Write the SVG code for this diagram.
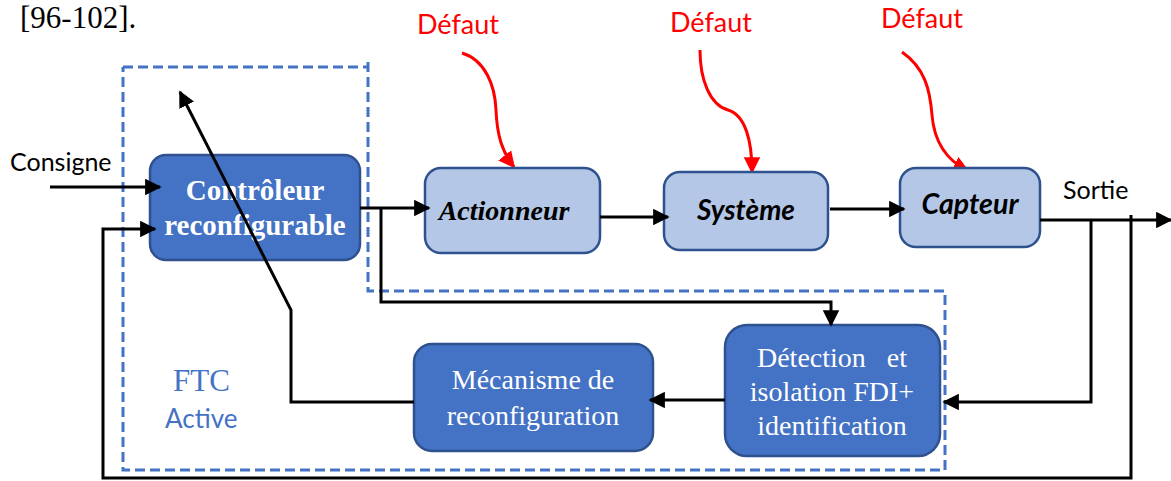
<svg xmlns="http://www.w3.org/2000/svg" width="1171" height="481" viewBox="0 0 1171 481">
  <style>
    .dark { fill: #4472C4; stroke: #2F528F; stroke-width: 2.5; }
    .light { fill: #B4C7E7; stroke: #2F528F; stroke-width: 2.5; }
    .wt { font-family: "Liberation Serif", "Times New Roman", serif; font-size: 28px; fill: #ffffff; text-anchor: middle; }
    .wtb { font-weight: bold; font-size: 29px; }
    .lbl { font-family: Lato, "Liberation Sans", sans-serif; font-size: 25px; fill: #000000; }
    .red { font-family: Lato, "Liberation Sans", sans-serif; font-size: 27px; fill: #FF0000; text-anchor: middle; }
    .wire { fill: none; stroke: #000000; stroke-width: 3; }
    .fault { fill: none; stroke: #FF0000; stroke-width: 3; }
    .frame { fill: none; stroke: #4472C4; stroke-width: 3; stroke-dasharray: 10 5; }
  </style>
  <defs>
    <marker id="ah" viewBox="0 0 10 10" refX="9" refY="5" markerWidth="5.5" markerHeight="5.5" markerUnits="strokeWidth" orient="auto">
      <path d="M0,0 L10,5 L0,10 z" fill="#000000"/>
    </marker>
    <marker id="ahr" viewBox="0 0 10 10" refX="9" refY="5" markerWidth="5.5" markerHeight="5.5" markerUnits="strokeWidth" orient="auto">
      <path d="M0,0 L10,5 L0,10 z" fill="#FF0000"/>
    </marker>
  </defs>

  <!-- reference note -->
  <text x="20" y="28" font-family="Liberation Serif, Times New Roman, serif" font-size="31" fill="#000">[96-102].</text>

  <!-- active FTC dashed boundary -->
  <g id="ftc-frame">
    <path class="frame" d="M123,67 H368 M368,62 V291 H945 V470 H123 V67"/>
    <text x="173" y="391" font-family="Liberation Serif, Times New Roman, serif" font-size="31" fill="#4472C4">FTC</text>
    <text x="165" y="428" font-family="Lato, Liberation Sans, sans-serif" font-size="26" fill="#4472C4">Active</text>
  </g>

  <!-- fault inputs -->
  <g id="faults">
    <text class="red" x="458" y="34">Défaut</text>
    <path class="fault" d="M462,53 C485,60 495,85 496,110 C497,135 502,152 514,167" marker-end="url(#ahr)"/>
    <text class="red" x="711" y="32">Défaut</text>
    <path class="fault" d="M700,50 C700,80 710,105 728,110 C745,115 752,140 752,172" marker-end="url(#ahr)"/>
    <text class="red" x="922" y="28">Défaut</text>
    <path class="fault" d="M902,52 C925,68 930,90 932,115 C934,140 946,160 968,171" marker-end="url(#ahr)"/>
  </g>

  <g id="lbl-consigne"><text class="lbl" x="10" y="171">Consigne</text></g>
  <g id="lbl-sortie"><text class="lbl" x="1063" y="199">Sortie</text></g>

  <g id="controleur">
    <rect class="dark" x="150" y="155" width="210" height="105" rx="16"/>
    <text class="wt wtb" x="255" y="200">Contrôleur</text>
    <text class="wt wtb" x="255" y="235">reconfigurable</text>
  </g>

  <g id="actionneur">
    <rect class="light" x="425" y="168" width="175" height="85" rx="16"/>
    <text x="504" y="220" font-family="Liberation Serif, Times New Roman, serif" font-size="28" font-weight="bold" font-style="italic" text-anchor="middle">Actionneur</text>
  </g>

  <g id="systeme">
    <rect class="light" x="664" y="172" width="164" height="78" rx="16"/>
    <text x="746" y="220" font-family="Lato, Liberation Sans, sans-serif" font-size="28" font-weight="bold" font-style="italic" text-anchor="middle">Système</text>
  </g>

  <g id="capteur">
    <rect class="light" x="900" y="168" width="140" height="79" rx="16"/>
    <text x="970" y="214" font-family="Lato, Liberation Sans, sans-serif" font-size="28.5" font-weight="bold" font-style="italic" text-anchor="middle">Capteur</text>
  </g>

  <g id="detection">
    <rect class="dark" x="725" y="325" width="215" height="131" rx="22"/>
    <text class="wt" x="832" y="367" xml:space="preserve">Détection   et</text>
    <text class="wt" x="832" y="401">isolation FDI+</text>
    <text class="wt" x="832" y="435">identification</text>
  </g>

  <g id="mecanisme">
    <rect class="dark" x="414" y="344" width="239" height="107" rx="18"/>
    <text class="wt" x="533" y="389">Mécanisme de</text>
    <text class="wt" x="533" y="425">reconfiguration</text>
  </g>

  <!-- connectors, drawn over the blocks -->
  <g id="connectors">
    <!-- setpoint in -->
    <line class="wire" x1="50" y1="187" x2="160" y2="187" marker-end="url(#ah)"/>
    <!-- outer feedback loop -->
    <path class="wire" d="M1131,215 V478 H103 V229 H155" marker-end="url(#ah)"/>
    <!-- controller -> actuator -->
    <line class="wire" x1="360" y1="208" x2="429" y2="208" marker-end="url(#ah)"/>
    <!-- controller -> FDI -->
    <path class="wire" d="M381,208 V302 H831 V325" marker-end="url(#ah)"/>
    <!-- actuator -> system -->
    <line class="wire" x1="600" y1="217" x2="668" y2="217" marker-end="url(#ah)"/>
    <!-- system -> sensor -->
    <line class="wire" x1="830" y1="209" x2="904" y2="209" marker-end="url(#ah)"/>
    <!-- sensor output -->
    <line class="wire" x1="1040" y1="220" x2="1171" y2="220" marker-end="url(#ah)"/>
    <!-- output -> FDI -->
    <path class="wire" d="M1091,220 V402 H944" marker-end="url(#ah)"/>
    <!-- FDI -> reconfiguration -->
    <line class="wire" x1="725" y1="400" x2="650" y2="400" marker-end="url(#ah)"/>
    <!-- reconfiguration -> controller -->
    <path class="wire" d="M414,402 H291 V310 L180,92" marker-end="url(#ah)"/>
  </g>
</svg>
